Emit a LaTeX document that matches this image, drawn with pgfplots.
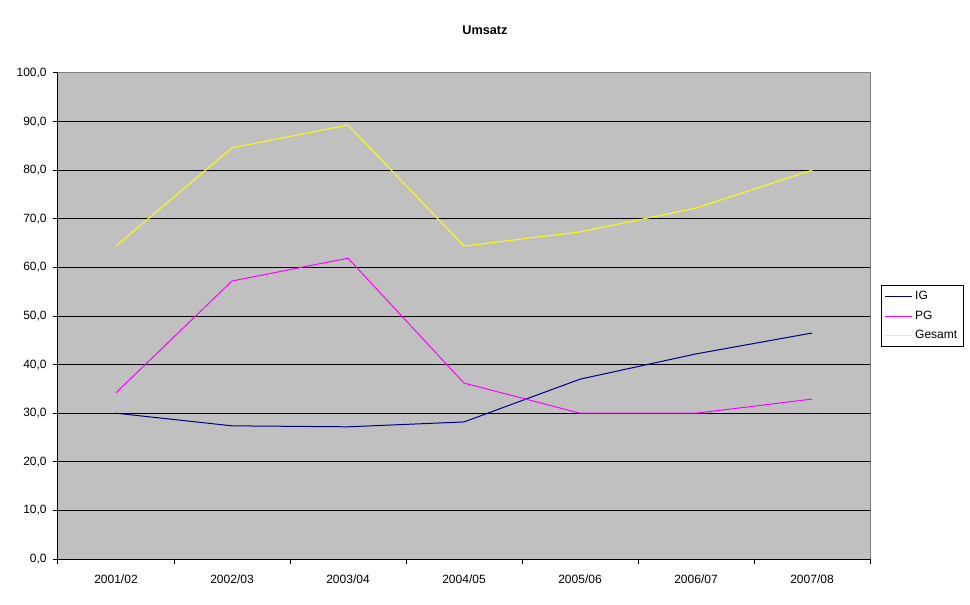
\documentclass[border=0pt]{standalone}
\usepackage{pgfplots}
\pgfplotsset{compat=1.18}
\usepackage{fontspec}
\setmainfont{Liberation Sans}
\definecolor{plotgray}{RGB}{192,192,192}
\definecolor{bordergray}{RGB}{128,128,128}
\definecolor{igblue}{RGB}{0,0,128}
\definecolor{pgmag}{RGB}{255,0,255}
\definecolor{gesyel}{RGB}{255,255,0}
\begin{document}
\begin{tikzpicture}
% 1px = 0.75pt, picture 970x604 px
\useasboundingbox (0,0) rectangle (727.5pt,453pt);
\node[font=\fontsize{9.5}{11}\selectfont\bfseries] at (363.75pt,430.5pt) {Umsatz};
\begin{axis}[
    at={(43.5pt,33.75pt)}, anchor=south west,
    scale only axis,
    width=609pt, height=364.5pt,
    xmin=-0.5, xmax=6.5,
    ymin=0, ymax=100,
    axis lines=left,
    axis line style={-, black, line width=0.75pt},
    axis background/.style={fill=plotgray, draw=bordergray, line width=0.75pt},
    tick align=outside,
    xtick={0,...,6},
    xticklabels={2001/02,2002/03,2003/04,2004/05,2005/06,2006/07,2007/08},
    major x tick style={draw=none},
    minor xtick={-0.5,0.5,...,6.5},
    minor x tick style={black, line width=0.75pt},
    minor tick length=4pt,
    ytick={0,10,...,100},
    major tick length=4pt,
    y tick style={black, line width=0.75pt},
    extra y ticks={10,20,...,90},
    extra y tick labels={},
    extra y tick style={ymajorgrids=true, major grid style={black, line width=0.75pt}},
    y tick label style={/pgf/number format/fixed, /pgf/number format/fixed zerofill,
        /pgf/number format/precision=1, /pgf/number format/use comma, xshift=-1pt},
    /pgf/number format/assume math mode=true,
    tick label style={font=\fontsize{9}{11}\selectfont},
    x tick label style={yshift=-4pt},
    legend style={at={(1,0.5)}, anchor=west, xshift=8.25pt,
        draw=black, fill=white, line width=0.75pt,
        font=\fontsize{9}{11}\selectfont,
        row sep=3pt, inner sep=2.5pt},
    legend cell align=left,
    legend image code/.code={\draw[#1, line width=0.75pt] (0pt,0pt) -- (20pt,0pt);},
]
\addplot[igblue, line width=0.75pt] coordinates {
    (0,30.0) (1,27.4) (2,27.2) (3,28.2) (4,37.0) (5,42.2) (6,46.5)};
\addlegendentry{IG}
\addplot[pgmag, line width=0.75pt] coordinates {
    (0,34.2) (1,57.2) (2,61.9) (3,36.2) (4,30.0) (5,30.0) (6,32.9)};
\addlegendentry{PG}
\addplot[gesyel, line width=0.75pt] coordinates {
    (0,64.4) (1,84.6) (2,89.3) (3,64.4) (4,67.3) (5,72.2) (6,80.0)};
\addlegendentry{Gesamt}
\end{axis}
\end{tikzpicture}
\end{document}
